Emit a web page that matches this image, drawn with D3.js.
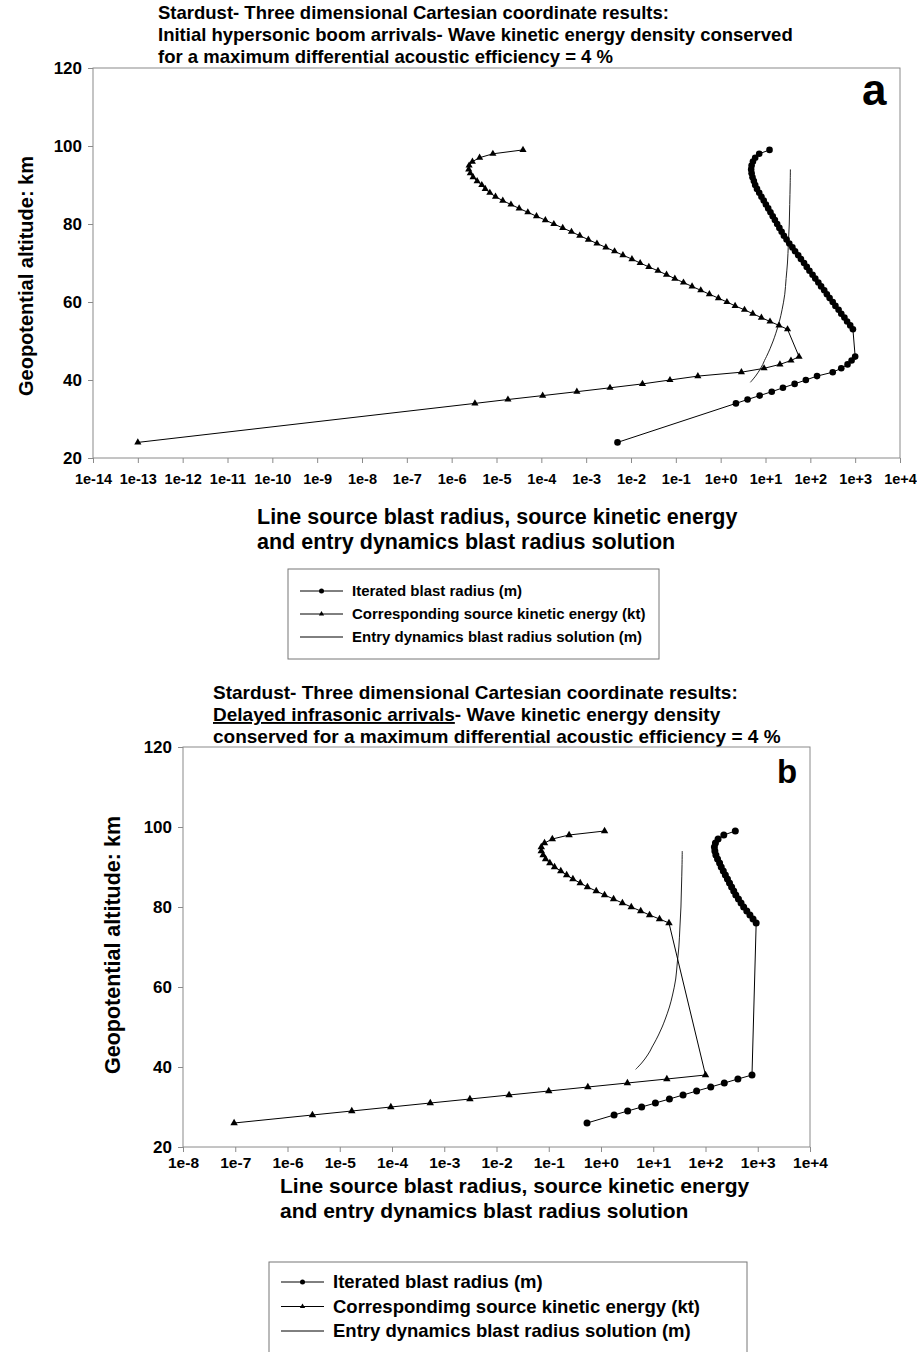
<!DOCTYPE html>
<html>
<head>
<meta charset="utf-8">
<script src="https://cdn.jsdelivr.net/npm/d3@7"></script>
<style>
  body { margin: 0; background: #fff; }
  svg text { font-family: "Liberation Sans", Arial, sans-serif; font-weight: bold; fill: #000; }
</style>
</head>
<body>
<div class="chart"></div>
<script>
const width = 917
const height = 1352

// ---- panel a: initial hypersonic boom arrivals ----
const altA = [24, 34, 35, 36, 37, 38, 39, 40, 41, 42, 43, 44, 45, 46,
  53, 54, 55, 56, 57, 58, 59, 60, 61, 62, 63, 64, 65, 66, 67, 68, 69, 70,
  71, 72, 73, 74, 75, 76, 77, 78, 79, 80, 81, 82, 83, 84, 85, 86, 87, 88,
  89, 90, 91, 92, 93, 94, 95, 96, 97, 98, 99]
const radiusA = [5.0e-3, 2.19, 3.98, 7.41, 13.8, 24.5, 44.7, 79.4, 141, 316, 490, 676, 832, 1000,
  891, 776, 661, 575, 490, 427, 363, 316, 269, 234, 204, 174, 151, 129, 112, 95.5, 83.2, 72.4,
  61.7, 53.7, 45.7, 39.8, 33.9, 29.5, 25.7, 22.9, 20.4, 18.2, 16.2, 14.5, 12.9, 11.5, 10.2, 9.12, 8.13, 7.24,
  6.46, 5.89, 5.50, 5.13, 4.90, 4.79, 4.90, 5.25, 5.89, 7.24, 12.3]
const energyA = [1.0e-13, 3.3e-6, 1.8e-5, 1.07e-4, 6.2e-4, 3.4e-3, 1.8e-2, 7.4e-2, 0.31, 2.9, 9.3, 21, 37, 56,
  31, 20, 12.6, 8.1, 5.2, 3.4, 2.1, 1.38, 0.89, 0.56, 0.36, 0.23, 0.148, 0.095, 0.062, 0.040, 0.025, 0.016,
  0.0105, 6.6e-3, 4.3e-3, 2.75e-3, 1.74e-3, 1.12e-3, 7.2e-4, 4.7e-4, 3.0e-4, 1.9e-4, 1.23e-4, 7.8e-5, 5.0e-5, 3.2e-5, 2.1e-5, 1.38e-5, 9.5e-6, 7.1e-6,
  5.6e-6, 4.7e-6, 3.7e-6, 3.0e-6, 2.6e-6, 2.4e-6, 2.45e-6, 2.9e-6, 4.2e-6, 8.3e-6, 3.9e-5]

// ---- panel b: delayed infrasonic arrivals ----
const altB = [26, 28, 29, 30, 31, 32, 33, 34, 35, 36, 37, 38,
  76, 77, 78, 79, 80, 81, 82, 83, 84, 85, 86, 87, 88, 89, 90, 91, 92, 93, 94, 95, 96, 97, 98, 99]
const radiusB = [0.54, 1.78, 3.24, 6.0, 11.0, 20.4, 37.2, 67.6, 126, 229, 417, 776,
  933, 813, 708, 617, 537, 479, 427, 380, 347, 316, 288, 263, 240, 219, 200, 186, 170, 158, 151, 148, 155, 174, 224, 372]
const energyB = [9.5e-8, 3.0e-6, 1.7e-5, 9.5e-5, 5.4e-4, 3.1e-3, 0.0174, 0.100, 0.56, 3.2, 18.2, 100,
  20, 13.2, 8.5, 5.75, 3.8, 2.57, 1.74, 1.17, 0.81, 0.55, 0.40, 0.29, 0.22, 0.17, 0.129, 0.105, 0.087, 0.078, 0.072, 0.072, 0.083, 0.117, 0.245, 1.17]

// ---- entry dynamics blast radius solution (same in both panels) ----
const entryAlt = [39.4, 40, 41, 42, 43, 44, 45, 46, 48, 50, 52, 55, 58, 62, 66, 70, 75, 80, 85, 90, 94]
const entryRadius = [4.6, 5.1, 6.0, 6.9, 7.8, 8.7, 9.5, 10.5, 12.6, 14.8, 17.0, 20.4, 23.4, 26.9, 28.8, 30.9, 32.4, 33.9, 34.7, 35.5, 35.9]

const yTicks = [20, 40, 60, 80, 100, 120]
const xLabelsA = ["1e-14", "1e-13", "1e-12", "1e-11", "1e-10", "1e-9", "1e-8", "1e-7", "1e-6",
  "1e-5", "1e-4", "1e-3", "1e-2", "1e-1", "1e+0", "1e+1", "1e+2", "1e+3", "1e+4"]
const xLabelsB = ["1e-8", "1e-7", "1e-6", "1e-5", "1e-4", "1e-3", "1e-2", "1e-1", "1e+0",
  "1e+1", "1e+2", "1e+3", "1e+4"]

const svg = d3.select(".chart")
  .append("svg")
  .attr("width", width)
  .attr("height", height)

function drawPanel(p) {
  const x = d3.scaleLog().domain([+p.xLabels[0], +p.xLabels[p.xLabels.length - 1]]).range([p.left, p.right])
  const y = d3.scaleLinear().domain([20, 120]).range([p.bottom, p.top])

  // title
  const title = svg.append("text").attr("x", p.titleX).attr("y", p.titleY)
    .style("font-size", p.titleSize + "px")
  p.titleLines.forEach((line, i) => {
    const t = title.append("tspan").attr("x", p.titleX).attr("dy", i == 0 ? 0 : p.titleGap)
    line.forEach(part => {
      t.append("tspan").text(part.t).style("text-decoration", part.u ? "underline" : null)
    })
  })

  // frame
  svg.append("rect")
    .attr("x", p.left).attr("y", p.top)
    .attr("width", p.right - p.left).attr("height", p.bottom - p.top)
    .attr("fill", "none").attr("stroke", "#8a8a8a")

  const yAxis = svg.append("g")
    .attr("transform", `translate(${p.left},0)`)
    .call(d3.axisLeft(y).tickValues(yTicks).tickSize(5).tickPadding(6))
  yAxis.selectAll("text").style("font-size", p.yTickSize + "px")

  const xAxis = svg.append("g")
    .attr("transform", `translate(0,${p.bottom})`)
    .call(d3.axisBottom(x).tickValues(p.xLabels.map(Number)).tickSize(5).tickPadding(p.xPad)
      .tickFormat((d, i) => p.xLabels[i]))
  xAxis.selectAll("text").style("font-size", p.xTickSize + "px")

  svg.selectAll("path.domain").remove()
  svg.selectAll("g.tick line").attr("stroke", "#8a8a8a")

  // axis titles
  const xt = svg.append("text").attr("x", p.xTitleX).attr("y", p.xTitleY)
    .style("font-size", p.axisTitleSize + "px")
  xt.append("tspan").attr("x", p.xTitleX).text("Line source blast radius, source kinetic energy")
  xt.append("tspan").attr("x", p.xTitleX).attr("dy", p.xTitleGap).text("and entry dynamics blast radius solution")

  svg.append("text")
    .attr("transform", `translate(${p.yTitleX},${p.yTitleY}) rotate(-90)`)
    .attr("text-anchor", "middle")
    .style("font-size", p.yTitleSize + "px")
    .text("Geopotential altitude: km")

  svg.append("text").attr("x", p.tagX).attr("y", p.tagY)
    .style("font-size", p.tagSize + "px").text(p.tag)

  // series
  const line = d3.line().x(d => x(d[1])).y(d => y(d[0]))
  const radius = p.alt.map((a, i) => [a, p.radius[i]])
  const energy = p.alt.map((a, i) => [a, p.energy[i]])
  const entry = entryAlt.map((a, i) => [a, entryRadius[i]])

  svg.append("path").datum(entry)
    .attr("d", line.curve(d3.curveCatmullRom))
    .attr("fill", "none").attr("stroke", "#222").attr("stroke-width", 1)
  line.curve(d3.curveLinear)

  svg.append("path").datum(energy).attr("d", line)
    .attr("fill", "none").attr("stroke", "#000").attr("stroke-width", 1)
  svg.append("path").datum(radius).attr("d", line)
    .attr("fill", "none").attr("stroke", "#000").attr("stroke-width", 1)

  svg.selectAll(null).data(energy).enter().append("path")
    .attr("transform", d => `translate(${x(d[1])},${y(d[0])})`)
    .attr("d", d3.symbol(d3.symbolTriangle).size(p.triSize))
    .attr("fill", "#000")

  svg.selectAll(null).data(radius).enter().append("circle")
    .attr("cx", d => x(d[1])).attr("cy", d => y(d[0]))
    .attr("r", p.dotR).attr("fill", "#000")

  // legend
  const lg = svg.append("g")
  lg.append("rect")
    .attr("x", p.legend.x).attr("y", p.legend.y)
    .attr("width", p.legend.w).attr("height", p.legend.h)
    .attr("fill", "#fff").attr("stroke", "#777")
  p.legend.items.forEach((name, i) => {
    const cy = p.legend.rowY + i * p.legend.rowGap
    const x0 = p.legend.x + 12, x1 = x0 + 43, xm = (x0 + x1) / 2
    lg.append("line").attr("x1", x0).attr("x2", x1).attr("y1", cy).attr("y2", cy)
      .attr("stroke", "#000").attr("stroke-width", 1)
    if (i == 0) lg.append("circle").attr("cx", xm).attr("cy", cy).attr("r", 2.5)
    if (i == 1) lg.append("path").attr("transform", `translate(${xm},${cy})`)
      .attr("d", d3.symbol(d3.symbolTriangle).size(12))
    lg.append("text").attr("x", x1 + 9).attr("y", cy).attr("dy", "0.35em")
      .style("font-size", p.legend.size + "px").text(name)
  })
}

drawPanel({
  left: 93, right: 900, top: 68, bottom: 458,
  xLabels: xLabelsA, xPad: 11, xTickSize: 14.5, yTickSize: 17,
  alt: altA, radius: radiusA, energy: energyA,
  titleX: 158, titleY: 19, titleGap: 22, titleSize: 18.5,
  titleLines: [
    [{t: "Stardust- Three dimensional Cartesian coordinate results:"}],
    [{t: "Initial hypersonic boom arrivals- Wave kinetic energy density conserved"}],
    [{t: "for a maximum differential acoustic efficiency = 4 %"}]
  ],
  xTitleX: 257, xTitleY: 524, xTitleGap: 25, axisTitleSize: 21.5,
  yTitleX: 33, yTitleY: 276, yTitleSize: 20,
  tag: "a", tagX: 862, tagY: 105, tagSize: 44,
  dotR: 3.3, triSize: 22,
  legend: {
    x: 288, y: 569, w: 371, h: 90, rowY: 591, rowGap: 23, size: 15,
    items: ["Iterated blast radius (m)", "Corresponding source kinetic energy (kt)", "Entry dynamics blast radius solution (m)"]
  }
})

drawPanel({
  left: 183, right: 810, top: 747, bottom: 1147,
  xLabels: xLabelsB, xPad: 5, xTickSize: 15.5, yTickSize: 17,
  alt: altB, radius: radiusB, energy: energyB,
  titleX: 213, titleY: 699, titleGap: 22, titleSize: 19,
  titleLines: [
    [{t: "Stardust- Three dimensional Cartesian coordinate results:"}],
    [{t: "Delayed infrasonic arrivals", u: true}, {t: "- Wave kinetic energy density"}],
    [{t: "conserved for a maximum differential acoustic efficiency = 4 %"}]
  ],
  xTitleX: 280, xTitleY: 1193, xTitleGap: 25, axisTitleSize: 21,
  yTitleX: 120, yTitleY: 945, yTitleSize: 21.5,
  tag: "b", tagX: 777, tagY: 783, tagSize: 33,
  dotR: 3.5, triSize: 24,
  legend: {
    x: 269, y: 1262, w: 478, h: 100, rowY: 1282, rowGap: 24.5, size: 18.5,
    items: ["Iterated blast radius (m)", "Correspondimg source kinetic energy (kt)", "Entry dynamics blast radius solution (m)"]
  }
})
</script>
</body>
</html>
